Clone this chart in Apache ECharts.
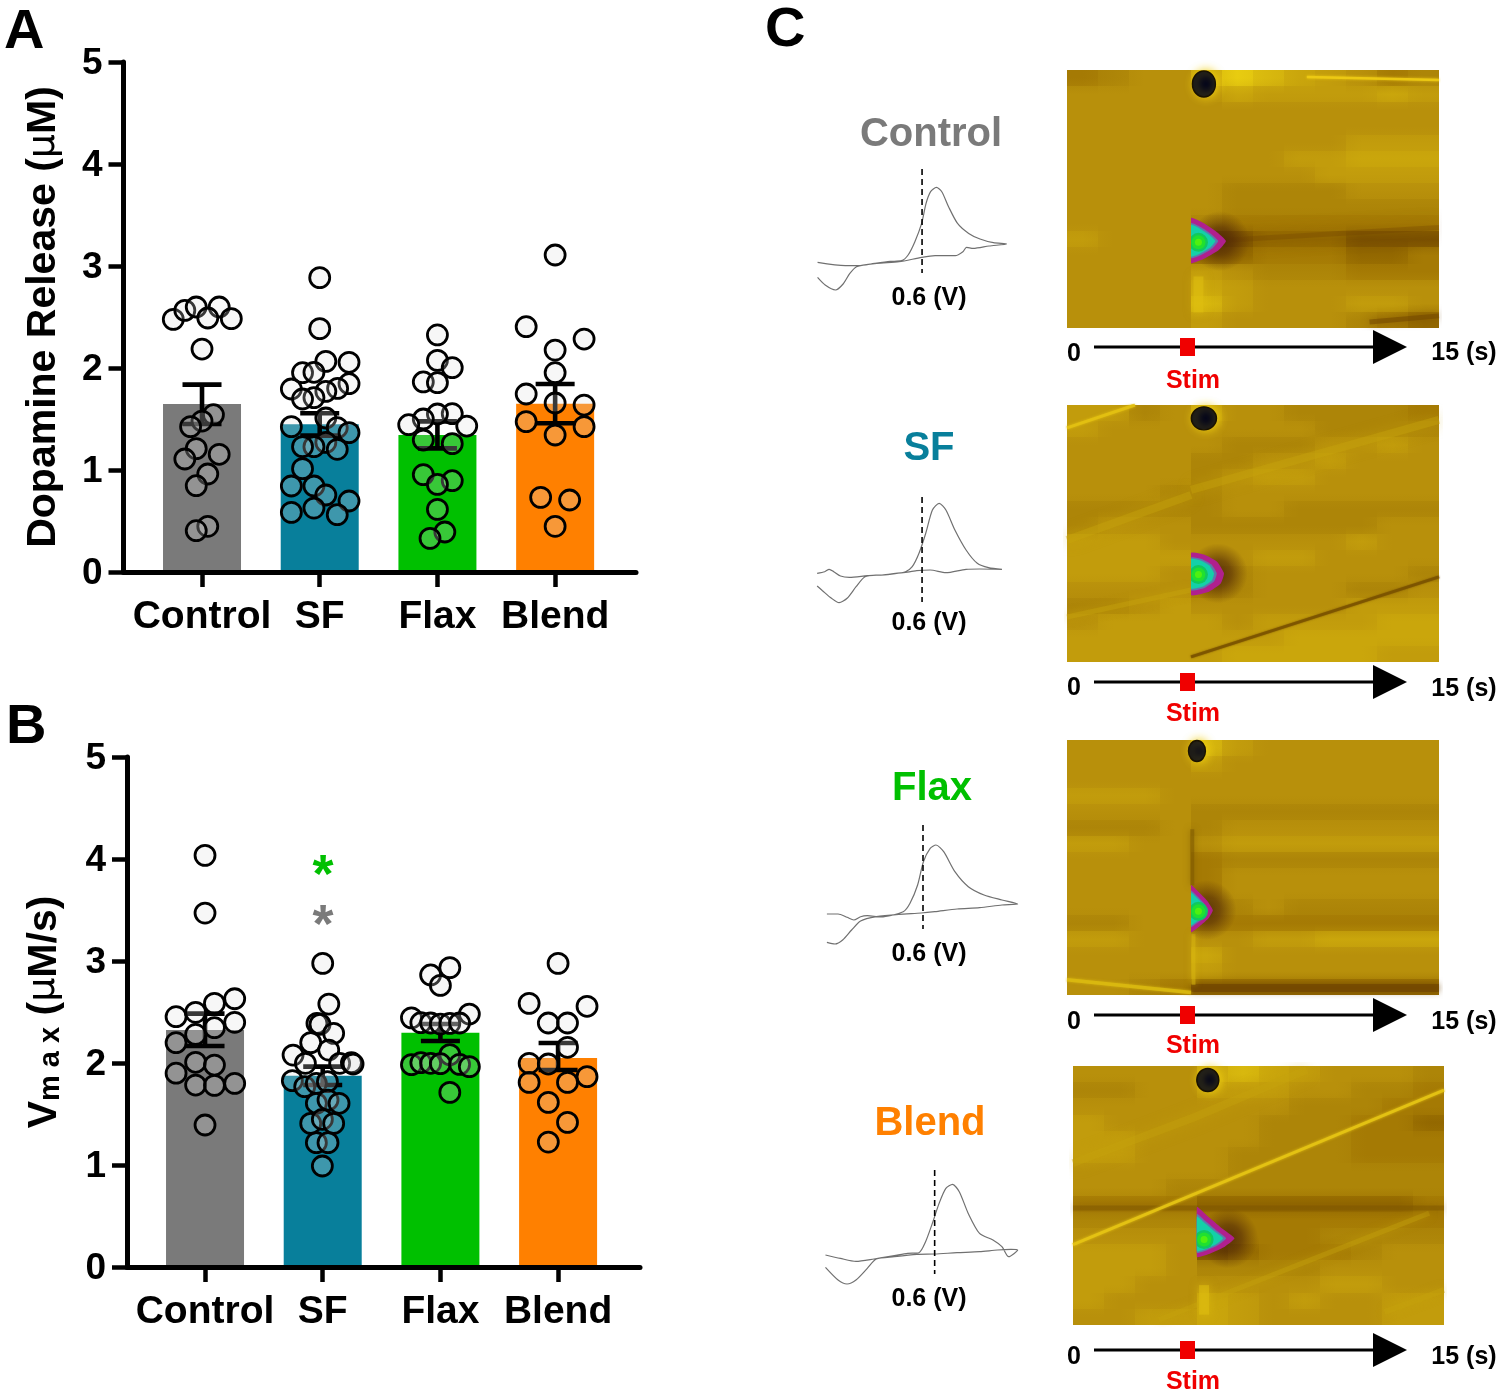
<!DOCTYPE html>
<html><head><meta charset="utf-8">
<style>html,body{margin:0;padding:0;background:#fff}#c{width:1500px;height:1394px}</style>
<script src="https://cdn.jsdelivr.net/npm/echarts@6/dist/echarts.min.js"></script>
</head><body><div id="c"></div>
<script>
const groups = ['Control','SF','Flax','Blend'];
const groupColors = ['#7a7a7a','#087f9b','#00c000','#ff8000'];

/* Panel A: dopamine release (uM) */
const aMeans = [1.647,1.448,1.343,1.65];
const aErrLow = [1.451,1.337,1.212,1.458];
const aErrHigh = [1.837,1.556,1.477,1.843];
const aDotsControl = [[-.244,2.477],[-.146,2.565],[-.049,2.598],[.146,2.598],[.049,2.49],[.249,2.484],[0,2.186],[.097,1.542],[0,1.48],[-.097,1.425],[-.049,1.209],[.146,1.154],[-.146,1.108],[.049,.961],[-.049,.846],[.049,.448],[-.049,.405]];
const aDotsSF = [[0,2.886],[0,2.386],[.052,2.065],[.249,2.056],[-.146,1.954],[-.049,1.958],[.249,1.846],[.152,1.8],[-.241,1.794],[.052,1.771],[-.049,1.71],[-.146,1.696],[.052,1.510],[-.241,1.425],[.149,1.415],[.249,1.366],[.052,1.271],[-.049,1.229],[-.146,1.229],[.149,1.203],[-.146,1.013],[-.241,.843],[-.049,.843],[.052,.755],[.249,.696],[-.049,.627],[-.241,.585],[.149,.562]];
const aDotsFlax = [[0,2.324],[0,2.075],[.126,2.003],[-.12,1.863],[0,1.856],[.126,1.552],[0,1.549],[-.12,1.5],[-.244,1.444],[.249,1.431],[-.12,1.294],[.126,1.258],[-.12,.954],[.126,.895],[0,.859],[0,.614],[.063,.392],[-.063,.33]];
const aDotsBlend = [[0,3.108],[-.246,2.405],[.246,2.284],[0,2.176],[0,1.954],[-.246,1.745],[0,1.657],[.246,1.637],[-.246,1.474],[.246,1.425],[0,1.343],[-.123,.732],[.123,.706],[0,.448]];

/* Panel B: Vmax (uM/s) */
const bMeans = [2.324,1.876,2.297,2.05];
const bErrLow = [2.167,1.784,2.216,1.931];
const bErrHigh = [2.484,1.964,2.382,2.196];
const bDotsControl = [[0,4.036],[0,3.47],[.252,2.63],[.08,2.585],[-.246,2.454],[-.08,2.497],[.252,2.399],[.08,2.346],[-.08,2.28],[-.246,2.199],[-.08,2.007],[.08,1.98],[-.246,1.9],[-.08,1.784],[.08,1.781],[.252,1.8],[0,1.392]];
const bDotsSF = [[0,2.977],[.052,2.578],[-.049,2.389],[-.023,2.38],[.093,2.291],[-.102,2.2],[.051,2.127],[-.252,2.078],[-.147,1.997],[.144,1.997],[.244,2.003],[.258,1.99],[-.258,1.827],[-.153,1.768],[-.054,1.801],[.04,1.817],[-.054,1.605],[.045,1.637],[.139,1.605],[-.102,1.408],[-.003,1.448],[.093,1.408],[-.054,1.219],[.045,1.219],[-.003,.99]];
const bDotsFlax = [[.08,2.935],[-.083,2.863],[0,2.761],[-.246,2.443],[.246,2.48],[-.166,2.395],[-.083,2.392],[0,2.382],[.08,2.389],[.163,2.392],[.08,2.082],[-.246,1.984],[-.166,2.003],[-.083,1.997],[0,1.993],[.163,1.987],[.246,1.964],[.08,1.712]];
const bDotsBlend = [[0,2.977],[-.246,2.585],[.246,2.556],[-.083,2.392],[.08,2.392],[.08,2.154],[-.246,1.997],[-.083,1.99],[.246,1.866],[-.246,1.81],[.08,1.81],[-.083,1.614],[.08,1.418],[-.083,1.225]];

/* Panel C: voltammograms, potential (V) against current (a.u.) */
const cvControl = [[-.39,3.3],[-.127,0],[0,0],[.15,2.3],[.298,4.3],[.405,5],[.468,10.7],[.532,24],[.596,42.3],[.638,62.3],[.681,74],[.736,78.3],[.787,74],[.851,59],[.936,42.3],[1.042,32.3],[1.149,26.7],[1.276,23],[1.4,21.7],[1.234,19.7],[1.085,17.3],[1.021,18.3],[.987,14],[.915,10],[.724,10],[.596,8.3],[.383,4],[.171,2.3],[-.02,-1],[-.084,-7.7],[-.148,-18.3],[-.22,-24.3],[-.318,-19.3],[-.39,-11.7]];
const cvSF = [[-.394,1.7],[-.322,3.3],[-.28,5.7],[-.237,3.3],[-.173,-1],[-.088,-2.3],[.082,-.7],[.294,.7],[.443,3.3],[.507,8.3],[.571,21.7],[.635,41.7],[.698,65],[.762,71.7],[.826,65],[.911,45],[1.017,25],[1.123,11.7],[1.23,7.3],[1.357,5.7],[1.145,6],[1.017,5.7],[.826,2.3],[.677,5],[.549,4.3],[.422,2.3],[.209,0],[.06,-1.7],[-.025,-11.7],[-.11,-23.3],[-.186,-27.7],[-.258,-23.3],[-.343,-15.7],[-.394,-11]];
const cvFlax = [[-.31,1],[-.204,1],[-.119,-2.3],[-.055,-5],[.009,-1.7],[.073,-.7],[.2,-2],[.413,3.3],[.477,11.7],[.549,30],[.604,53.3],[.668,66.7],[.723,70],[.796,63.3],[.902,43.3],[1.029,28.3],[1.178,20],[1.348,15],[1.497,11],[1.348,10],[1.136,7.3],[.923,6],[.711,3.3],[.583,2],[.37,.7],[.158,-1.7],[.009,-6],[-.076,-15],[-.161,-25],[-.233,-29],[-.31,-27.3]];
const cvBlend = [[-.434,1.7],[-.293,-1.7],[-.145,-4.7],[.026,-2.3],[.217,1],[.344,3.3],[.451,4],[.514,15],[.578,33.3],[.642,53.3],[.706,68.3],[.77,72.3],[.833,65],[.918,43.3],[1.025,23.3],[1.152,16.7],[1.237,10],[1.301,0],[1.386,6.7],[1.322,7.3],[1.195,6.7],[1.025,5],[.812,4],[.6,2.7],[.43,2.3],[.217,0],[.047,-2.3],[-.038,-11.7],[-.145,-23.3],[-.23,-27.3],[-.315,-23.3],[-.434,-10.7]];
const cvMarks = [[96.7,-7.3],[78,-27],[90,-14],[86.7,-17.3]];

/* Panel C: colour plot levels, rows top to bottom, columns 0..15 s */
const heatControl = [
[3,4,5,5,7,9,8,7,6,5,3,4],[5,5,5,5,5,7,6,6,6,6,7,6],[5,5,5,5,5,5,5,5,5,5,5,5],[5,5,5,5,5,5,5,5,5,5,5,5],
[5,5,5,5,5,5,5,5,5,6,6,6],[5,5,5,5,5,5,5,6,6,7,7,7],[5,5,5,5,5,5,5,5,6,6,6,6],[5,5,5,5,5,4,4,4,4,5,5,5],
[5,5,5,5,5,4,4,4,4,4,4,4],[5,5,5,5,4,3,3,3,3,3,3,3],[6,5,5,5,1,1,2,2,2,1,1,1],[5,5,5,5,2,2,3,3,3,2,2,3],
[5,5,5,5,6,5,4,4,4,3,3,3],[5,5,5,5,7,6,5,5,5,5,5,5],[5,5,5,5,8,6,5,5,5,6,6,5],[5,5,5,5,6,5,5,5,5,4,3,2]];
const heatSF = [
[6,6,4,5,7,5,5,4,4,4,4,3],[6,5,5,5,5,5,5,5,4,4,4,4],[5,5,5,5,5,4,4,4,5,5,6,5],[5,5,5,5,4,4,5,5,6,5,5,5],
[5,5,5,5,4,5,6,6,5,5,5,5],[5,5,5,4,4,5,5,5,5,5,5,5],[4,4,4,4,4,5,5,4,4,4,4,4],[4,5,5,5,4,4,4,4,4,4,5,5],
[6,6,6,5,5,5,5,5,5,6,5,5],[6,6,6,6,5,5,6,6,5,5,5,5],[6,6,6,5,3,4,5,5,5,5,5,4],[5,5,5,5,3,4,5,5,5,4,4,5],
[4,4,5,6,5,5,5,5,5,6,6,6],[5,6,6,6,6,5,6,6,6,6,7,7],[6,6,6,6,6,6,6,7,7,7,7,7],[6,6,6,6,6,7,7,7,7,7,6,6]];
const heatFlax = [
[5,5,5,5,8,6,5,5,5,5,5,5],[5,5,5,5,6,5,5,5,5,5,5,5],[5,5,5,5,5,5,5,5,5,5,5,5],[6,6,6,5,5,5,5,5,5,5,5,5],
[5,5,5,5,4,4,4,4,4,4,4,4],[4,4,4,5,4,5,5,5,5,5,5,5],[6,6,5,5,5,6,6,6,6,6,6,6],[5,5,5,5,3,4,4,4,4,4,4,4],
[5,5,5,5,3,5,5,5,5,5,5,5],[5,5,5,5,3,5,5,5,5,5,5,5],[5,5,5,5,4,4,5,4,4,4,4,4],[4,4,5,5,3,3,3,3,3,3,3,3],
[6,6,5,5,5,5,6,6,7,7,7,7],[5,5,5,5,7,5,5,5,5,5,5,5],[5,5,5,5,6,5,5,5,5,5,5,5],[5,5,4,3,2,2,2,2,2,2,2,2]];
const heatBlend = [
[5,5,5,5,7,8,7,6,5,5,5,4],[4,4,5,5,6,6,6,5,5,4,4,3],[5,5,5,5,5,5,5,4,4,4,3,3],[6,5,5,5,5,5,4,4,4,3,3,2],
[6,6,5,5,5,5,4,4,4,3,3,3],[6,6,5,5,5,4,4,4,4,3,3,3],[5,5,5,5,5,4,4,4,4,4,4,4],[5,5,5,4,4,4,4,4,4,4,4,4],
[3,3,3,3,2,2,2,2,2,2,2,3],[4,4,4,4,3,3,3,3,3,3,3,3],[5,5,5,5,3,3,3,3,4,4,4,4],[6,6,6,5,1,2,3,3,3,4,5,5],
[6,6,6,5,4,4,4,4,5,5,5,5],[6,6,5,5,5,5,5,5,6,6,5,5],[6,5,5,5,7,6,5,6,5,5,6,6],[5,5,6,6,7,6,5,5,5,5,6,6]];
const heatPalette = ['#5e3600','#7a5000','#936800','#a57a04','#ad8508','#b8900b','#c29c0c','#caa60c','#d8b80e','#e8cc10'];

/* Colour plot features, time (s) against position (% of plot height) */
const streakControl = [
 {p:[[9.67,2.7],[15,3.9]],c:'#f0cc14',w:2.5,o:.85,b:3},{p:[[5.3,80],[5.3,94]],c:'#e0c010',w:10,o:.5,b:10},
 {p:[[6.4,66],[15,61]],c:'#6f4300',w:5,o:.3,b:18},{p:[[12.2,97.7],[15,95.3]],c:'#6f4300',w:5,o:.5,b:8}];
const streakSF = [
 {p:[[5,33],[15,5.8]],c:'#c9a50c',w:8,o:.4,b:14},{p:[[0,52.5],[5,35]],c:'#c9a50c',w:8,o:.4,b:14},
 {p:[[0,82.5],[5,72]],c:'#c9a50c',w:5,o:.4,b:8},{p:[[0,8.9],[2.74,0]],c:'#e4c212',w:3,o:.85,b:3},
 {p:[[5,98],[15,66.9]],c:'#7a5200',w:3,o:.85,b:2}];
const streakFlax = [
 {p:[[5,97.3],[15,97.3]],c:'#6f4300',w:8,o:.65,b:6},{p:[[0,94],[5,99]],c:'#dcbc10',w:3.5,o:.8,b:3},
 {p:[[5.05,35],[5.05,57]],c:'#7a5500',w:4,o:.5,b:6},{p:[[5.1,76],[5.1,96]],c:'#d9b810',w:4,o:.5,b:6}];
const streakBlend = [
 {p:[[0,37.5],[4.93,19.7],[9.45,1.5]],c:'#c6a20c',w:8,o:.4,b:14},{p:[[3.47,98],[14.4,56.8]],c:'#c6a20c',w:5,o:.4,b:8},
 {p:[[12.6,95],[15,86.5]],c:'#c6a20c',w:6,o:.4,b:8},{p:[[0,54.8],[15,54.8]],c:'#7a5200',w:5,o:.45,b:8},
 {p:[[5.3,84.6],[5.3,96]],c:'#e0c010',w:10,o:.55,b:10},{p:[[0,69],[15,9.3]],c:'#e6c414',w:3,o:.9,b:3}];
const oxidationSpots = [
 [[5,57.4],[5.5,59.3],[6,62.5],[6.41,66.3],[6.1,70],[5.5,73.3],[5,74.8]],
 [[5,57.6],[5.55,58.3],[6.05,61],[6.33,65.5],[6.2,69.5],[5.7,72.8],[5,73.9]],
 [[5,56.9],[5.3,59.5],[5.65,63],[5.88,66.7],[5.7,70],[5.35,73],[5,75.3]],
 [[5,54.4],[5.45,58],[6,62.5],[6.53,66.5],[6.1,70],[5.5,72.6],[5,73.7]]];
const reductionSpots = [[5.52,5.4],[5.52,5.2],[5.24,4.3],[5.45,5.4]];
const reductionSizes = [[23,26],[25,23],[17,21],[22,23]];
const spotRings = [[1,'#b0208e'],[.78,'#5f76ae'],[.7,'#14d0a8']];
const spotCores = [[9.5,'#10c860'],[7,'#20e030'],[3.5,'#50f010']];
const plotRanges = ['0','15 (s)'];

const F = '"Liberation Sans", Arial, sans-serif';
const grids=[], xAxes=[], yAxes=[], series=[], gr=[];
const LG = echarts.graphic.LinearGradient, RG = echarts.graphic.RadialGradient;

function barPanel(cfg){
  const g = grids.length;
  grids.push({left:cfg.left,top:cfg.top,width:cfg.width,height:510});
  xAxes.push({gridIndex:g,type:'value',min:cfg.min,max:cfg.max,z:10,splitLine:{show:false},
    axisLine:{onZero:false,lineStyle:{color:'#000',width:5}},
    axisTick:{length:15,customValues:[1,2,3,4],lineStyle:{color:'#000',width:4.5}},
    axisLabel:{customValues:[1,2,3,4],margin:26,color:'#000',fontWeight:'bold',fontSize:39,fontFamily:F,
      formatter:v=>groups[Math.round(v)-1]||''}});
  yAxes.push({gridIndex:g,type:'value',min:0,max:5,interval:1,z:10,splitLine:{show:false},
    axisLine:{show:true,lineStyle:{color:'#000',width:5}},
    axisTick:{show:true,length:15,lineStyle:{color:'#000',width:4.5}},
    axisLabel:{margin:21,verticalAlign:'top',lineHeight:4,color:'#000',fontWeight:'bold',fontSize:37,fontFamily:F},
    name:cfg.name,nameLocation:'middle',nameRotate:90,nameGap:cfg.gap,
    nameTextStyle:{color:'#000',fontWeight:'bold',fontSize:41,fontFamily:F,rich:{
      b:{fontWeight:'bold',fontSize:41,fontFamily:F,color:'#000'},
      m:{fontWeight:'normal',fontSize:38,fontFamily:'"DejaVu Sans"',color:'#000'},
      s:{fontWeight:'bold',fontSize:29,fontFamily:F,color:'#000',verticalAlign:'bottom'}}}});
  series.push({type:'bar',xAxisIndex:g,yAxisIndex:g,barWidth:78,z:1,silent:true,
    data:cfg.means.map((v,i)=>({value:[i+1,v],itemStyle:{color:groupColors[i]}}))});
  series.push({type:'custom',xAxisIndex:g,yAxisIndex:g,z:2,silent:true,clip:false,
    data:cfg.means.map((v,i)=>[i+1,cfg.lo[i],cfg.hi[i]]),
    encode:{x:0,y:[1,2]},
    renderItem:(p,api)=>{
      const x=api.value(0),a=api.coord([x,api.value(1)]),b=api.coord([x,api.value(2)]);
      const st={stroke:'#000',lineWidth:4.6,fill:null};
      return {type:'group',children:[
        {type:'line',shape:{x1:a[0],y1:a[1],x2:b[0],y2:b[1]},style:st},
        {type:'line',shape:{x1:a[0]-19.5,y1:a[1],x2:a[0]+19.5,y2:a[1]},style:st},
        {type:'line',shape:{x1:b[0]-19.5,y1:b[1],x2:b[0]+19.5,y2:b[1]},style:st}]};
    }});
  cfg.dots.forEach((arr,i)=>series.push({type:'scatter',xAxisIndex:g,yAxisIndex:g,z:3,silent:true,symbol:'circle',symbolSize:20,
    itemStyle:{color:'rgba(222,222,222,0.25)',borderColor:'#000',borderWidth:2.8,opacity:1},
    data:arr.map(d=>[i+1+d[0],d[1]])}));
}
barPanel({left:123.5,top:62,width:512.5,min:.333,max:4.687,means:aMeans,lo:aErrLow,hi:aErrHigh,
  dots:[aDotsControl,aDotsSF,aDotsFlax,aDotsBlend],gap:59,name:'{b|Dopamine Release (}{m|µ}{b|M)}'});
barPanel({left:127,top:757,width:513,min:.337,max:4.696,means:bMeans,lo:bErrLow,hi:bErrHigh,
  dots:[bDotsControl,bDotsSF,bDotsFlax,bDotsBlend],gap:62,name:'{b|V}{s|m a x}{b| (}{m|µ}{b|M/s)}'});

function heatRender(rows){
  return (p,api)=>{
    const nr=rows.length,nc=rows[0].length,dt=15/nc,dy=100/nr,kids=[];
    const box=(t0,y0,t1,y1,fill,opacity)=>{
      const a=api.coord([t0,y0]),b=api.coord([t1,y1]),x=Math.round(a[0]),y=Math.round(a[1]);
      return {type:'rect',shape:{x,y,width:Math.round(b[0])-x,height:Math.round(b[1])-y},style:{fill,opacity}};
    };
    const stops=vals=>vals.map((v,i)=>({offset:(i+.5)/vals.length,color:heatPalette[v]}));
    for(let c=0;c<nc;c++) kids.push(box(c*dt,0,(c+1)*dt,100,new LG(0,0,0,1,stops(rows.map(r=>r[c]))),1));
    rows.forEach((r,j)=>{
      kids.push(box(0,j*dy,4*dt,(j+1)*dy,new LG(0,0,1,0,stops(r.slice(0,4))),.5));
      kids.push(box(4*dt,j*dy,15,(j+1)*dy,new LG(0,0,1,0,stops(r.slice(4))),.5));
    });
    return {type:'group',children:kids};
  };
}
const panels=[
 {heat:heatControl,streak:streakControl,rect:[1067,70,372,258],cv:cvControl,cvRect:[816.5,165.7,190,140],vr:[-.4,1.4]},
 {heat:heatSF,streak:streakSF,rect:[1067,405,372,257],cv:cvSF,cvRect:[816.5,475,190,140],vr:[-.4,1.4]},
 {heat:heatFlax,streak:streakFlax,rect:[1067,740,372,255],cv:cvFlax,cvRect:[817.4,815,211.2,140],vr:[-.4,1.6]},
 {heat:heatBlend,streak:streakBlend,rect:[1073,1066,371,259],cv:cvBlend,cvRect:[818.5,1156.7,211.2,140],vr:[-.5,1.5]}];
panels.forEach((P,k)=>{
  const R=P.rect;
  let g=grids.length;
  grids.push({left:R[0],top:R[1],width:R[2],height:R[3]});
  xAxes.push({gridIndex:g,type:'value',min:0,max:15,show:false});
  yAxes.push({gridIndex:g,type:'value',min:0,max:100,inverse:true,show:false});
  series.push({type:'custom',xAxisIndex:g,yAxisIndex:g,z:1,silent:true,clip:false,data:[[7.5,50]],encode:{x:0,y:1},renderItem:heatRender(P.heat)});
  P.streak.forEach(s=>series.push({type:'line',xAxisIndex:g,yAxisIndex:g,z:2,silent:true,symbol:'none',clip:true,data:s.p,
    lineStyle:{color:s.c,width:s.w,opacity:s.o,shadowBlur:s.b,shadowColor:s.c,cap:'butt'}}));
  series.push({type:'scatter',xAxisIndex:g,yAxisIndex:g,z:3,silent:true,symbol:'circle',symbolSize:reductionSizes[k],
    data:[reductionSpots[k]],itemStyle:{color:'#00031a',borderColor:'#1a1200',borderWidth:1.5,opacity:1,shadowBlur:10,shadowOffsetX:2,shadowColor:'#f0d010'}});
  const outline=oxidationSpots[k], cy=outline[3][1], lx=outline[0][0];
  series.push({type:'custom',xAxisIndex:g,yAxisIndex:g,z:3,silent:true,clip:true,data:[[outline[3][0],cy]],encode:{x:0,y:1},
    renderItem:(p,api)=>{
      const lt=api.coord([lx,0]),rb=api.coord([15,100]);
      const clipPath={type:'rect',shape:{x:lt[0],y:lt[1],width:rb[0]-lt[0],height:rb[1]-lt[1]}};
      const poly=(s,st)=>({type:'polygon',clipPath,shape:{smooth:.15,points:outline.map(q=>api.coord([lx+s*(q[0]-lx),cy+s*(q[1]-cy)]))},style:st});
      const core=api.coord([lx+.3,cy+.5]), apex=api.coord([outline[3][0]-.25,cy]);
      const halo={type:'circle',clipPath,shape:{cx:apex[0],cy:apex[1],r:30},style:{fill:new RG(.5,.5,.5,[{offset:0,color:'rgba(70,32,6,.8)'},{offset:.45,color:'rgba(80,40,6,.6)'},{offset:1,color:'rgba(90,50,6,0)'}])}};
      return {type:'group',children:[halo]
        .concat(spotRings.map(r=>poly(r[0],{fill:r[1]})))
        .concat(spotCores.map(c=>({type:'circle',clipPath,shape:{cx:core[0],cy:core[1],r:c[0]},style:{fill:c[1]}})))};
    }});
  g=grids.length;
  const C=P.cvRect;
  grids.push({left:C[0],top:C[1],width:C[2],height:C[3]});
  xAxes.push({gridIndex:g,type:'value',min:P.vr[0],max:P.vr[1],show:false});
  yAxes.push({gridIndex:g,type:'value',min:-40,max:100,show:false});
  series.push({type:'line',xAxisIndex:g,yAxisIndex:g,symbol:'none',smooth:.25,silent:true,data:P.cv,lineStyle:{color:'#707070',width:1.2}});
  series.push({type:'line',xAxisIndex:g,yAxisIndex:g,symbol:'none',silent:true,data:[[.6,cvMarks[k][0]],[.6,cvMarks[k][1]]],lineStyle:{color:'#000',width:1.6,type:[6,4]}});
});

function txt(t,x,y,size,fill,align){gr.push({type:'text',silent:true,style:{text:t,x,y:y+.06*size,fill,align:align||'center',verticalAlign:'middle',font:'bold '+size+'px '+F}});}
txt('A',4,29,56,'#000','left'); txt('B',6,724,56,'#000','left'); txt('C',765,27,56,'#000','left');
txt('*',323,874,54,'#00c000'); txt('*',323,924,54,'#7a7a7a');
[['Control',931,133,'#7a7a7a'],['SF',929,447,'#087f9b'],['Flax',932,787,'#00c000'],['Blend',930,1122,'#ff8000']].forEach((a,i)=>txt(groups[i],a[1],a[2],40,a[3]));
[297,622,953,1298].forEach(y=>txt('0.6 (V)',929,y,25,'#000'));
[[347,353,352,380],[682,687,688,713],[1015,1021,1021,1045],[1350,1356,1356,1381]].forEach(a=>{
  txt(plotRanges[0],1074,a[1],25,'#000'); txt(plotRanges[1],1464,a[2],25,'#000'); txt('Stim',1193,a[3],25,'#f00000');
  gr.push({type:'line',silent:true,shape:{x1:1094,y1:a[0],x2:1380,y2:a[0]},style:{stroke:'#000',lineWidth:3}});
  gr.push({type:'polygon',silent:true,shape:{points:[[1373,a[0]-17],[1407,a[0]],[1373,a[0]+17]]},style:{fill:'#000'}});
  gr.push({type:'rect',silent:true,shape:{x:1180,y:a[0]-9,width:15,height:18},style:{fill:'#f00000'}});
});

const chart=echarts.init(document.getElementById('c'),null,{renderer:'canvas',width:1500,height:1394});
chart.setOption({animation:false,backgroundColor:'#fff',grid:grids,xAxis:xAxes,yAxis:yAxes,series,graphic:{elements:gr}});
</script></body></html>
